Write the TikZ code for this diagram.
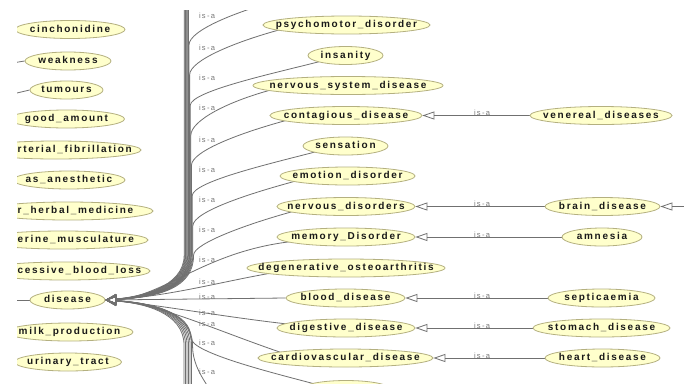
\documentclass[tikz,border=0pt]{standalone}
\usepackage{fontspec}
\newfontfamily\nodefont{Liberation Sans}[LetterSpace=17]
\usetikzlibrary{arrows.meta,shapes.geometric,calc}
\pgfdeclarelayer{bg}
\pgfsetlayers{bg,main}

\definecolor{bubfill}{RGB}{255,255,204}
\definecolor{bubline}{RGB}{180,176,128}
\definecolor{bubtext}{RGB}{25,25,25}
\definecolor{edgegray}{RGB}{112,112,112}
\definecolor{lblgray}{RGB}{120,120,120}

\newcommand\nf{\nodefont\bfseries\fontsize{10}{11}\selectfont}
\newcommand\lf{\nodefont\fontsize{7.5}{8}\selectfont}
% class bubble of a given width
\newcommand\bub[4]{%
  \node[bub, minimum width=#3pt] (#1) at (#2) {\makebox[0pt]{#4}};%
}
% subclass edge climbing the trunk and bending off to a class on the right
\newcommand\upedge[4]{%
  \draw[isadis] (dis.east) .. controls (#4,297) and (#2,288) .. (#2,255)
    -- (#2,#3+50) .. controls (#2,#3+35) and ($(#1.west)+(-25,16)$) .. ($(#1.west)+(20,4)$);%
}

\begin{document}
\begin{tikzpicture}[x=1pt,y=-1pt,
  bub/.style={ellipse, draw=bubline, fill=bubfill, line width=0.8pt, inner sep=0pt,
    minimum height=18pt, text height=7pt, text depth=2pt, font=\nf, text=bubtext},
  btxt/.style={font=\nf, text=bubtext, inner sep=0pt, text height=7pt, text depth=2pt},
  lbl/.style={font=\lf, text=lblgray, inner sep=0pt},
  edge/.style={draw=edgegray, line width=0.8pt},
  isa/.style={edge, -{Triangle[open, length=12pt, width=8pt]}},
  isadis/.style={edge, {Triangle[open, length=11pt, width=10pt]}-},
]
\useasboundingbox (0,0) rectangle (684,383);

\begin{scope}
\clip (17,10) rectangle (684,383);
% left column
\bub{cin}{70,29.5}{110}{cinchonidine}
\bub{wk}{68,61}{86}{weakness}
\bub{tum}{66.5,90}{73}{tumours}
\bub{good}{66.5,119}{116}{good\_amount}
\node[bub, minimum width=170pt] (af) at (56,150) {};
\node[btxt, anchor=west] (af-t) at (17.5,150) {rterial\_fibrillation};
\bub{anest}{69,180}{112}{as\_anesthetic}
\node[bub, minimum width=170pt] (herb) at (68,211) {};
\node[btxt, anchor=west] (herb-t) at (17.5,211) {r\_herbal\_medicine};
\node[bub, minimum width=170pt] (uter) at (63,240) {};
\node[btxt, anchor=west] (uter-t) at (17.5,240) {erine\_musculature};
\node[bub, minimum width=170pt] (exc) at (65,271) {};
\node[btxt, anchor=west] (exc-t) at (17.5,271) {cessive\_blood\_loss};
\bub{dis}{67.5,300}{75}{disease}
\bub{milk}{69.5,332}{127}{milk\_production}
\bub{uri}{68,362}{107}{urinary\_tract}

% middle column
\bub{psy}{346.5,25}{167}{psychomotor\_disorder}
\bub{ins}{345.5,55.5}{75}{insanity}
\bub{nsd}{348,85.5}{190}{nervous\_system\_disease}
\bub{cont}{346,115.5}{152}{contagious\_disease}
\bub{sens}{345.5,146}{85}{sensation}
\bub{emo}{347.5,176}{135}{emotion\_disorder}
\bub{nerv}{346,206.5}{138}{nervous\_disorders}
\bub{mem}{346,237}{138}{memory\_Disorder}
\bub{deg}{346,268}{198}{degenerative\_osteoarthritis}
\bub{blood}{345.5,298}{119}{blood\_disease}
\bub{dig}{346,328}{138}{digestive\_disease}
\bub{card}{345.5,358}{175}{cardiovascular\_disease}
\node[bub, minimum width=90pt] (low) at (346,389.5) {};

% right column
\bub{ven}{601,115.5}{142}{venereal\_diseases}
\bub{brain}{602.5,206.5}{115}{brain\_disease}
\bub{amn}{602,237}{80}{amnesia}
\bub{sep}{601.5,298}{107}{septicaemia}
\bub{stom}{601.5,328}{137}{stomach\_disease}
\bub{heart}{602.5,358}{115}{heart\_disease}

% relation labels near the trunk
\foreach \ly [count=\i] in {15.7,48.3,78.3,108.3,140,170,200,230,260,282,297,313,324,343,371.7}
  \node[lbl] (t\i) at (207,\ly) {is-a};
% relation labels on the right
\foreach \ly [count=\i] in {113,204,234.5,295.5,325.5,355.5}
  \node[lbl] (r\i) at (482,\ly) {is-a};
\end{scope}

\begin{pgfonlayer}{bg}
\fill[white] (0,0) rectangle (684,383);
\begin{scope}
\clip (17,10) rectangle (684,383);
% edges leaving to the left
\coordinate (wk-p) at (0,65);
\coordinate (tum-p) at (0,97);
\coordinate (dis-p) at (0,300);
\draw[edge] (wk.west) -- (wk-p);
\draw[edge] (tum.west) -- (tum-p);
\draw[edge] (dis.west) -- (dis-p);

% trunk: subclasses lying above the view
\foreach \bx/\cx [count=\i] in {184.2/138,184.9/140,185.6/142,186.3/144,187/146,187.7/148,188.4/150} {
  \coordinate (up\i) at (\bx,0);
  \draw[isadis] (dis.east) .. controls (\cx,297) and (\bx,288) .. (\bx,255) -- (up\i);
}
\coordinate (tp) at (283,-1);
\draw[isadis] (dis.east) .. controls (151,297) and (189,288) .. (189,255)
  -- (189,45) .. controls (189,30) and (238,11) .. (tp);
\upedge{psy}{189.6}{25}{152}
\upedge{ins}{190.2}{55.5}{153}
\upedge{nsd}{190.8}{85.5}{154}
\upedge{cont}{191.4}{115.5}{155}
\upedge{sens}{192.1}{146}{156}
\upedge{emo}{192.8}{176}{158}
\draw[isadis] (dis.east) .. controls (160,297) and (193.6,288) .. (193.6,255)
  .. controls (193.6,243) and ($(nerv.west)+(-25,16)$) .. ($(nerv.west)+(20,4)$);
\draw[isadis] (dis.east) .. controls (165,297) and (205,250) .. ($(mem.west)+(20,4)$);
\draw[isadis] (dis.east) .. controls (170,296) and (220,282) .. ($(deg.west)+(25,5)$);
\draw[isadis] (dis.east) -- (blood.west);
\draw[isadis] (dis.east) .. controls (160,305) and (230,318) .. ($(dig.west)+(20,-3)$);
\draw[isadis] (dis.east) .. controls (160,304) and (215,330) .. ($(card.west)+(25,-5)$);
\draw[isadis] (dis.east) .. controls (150,303) and (191,312) .. (191,338)
  .. controls (191,353) and ($(low.west)+(-25,-16)$) .. ($(low.west)+(20,-4)$);

% trunk: subclasses lying below the view
\foreach \bx/\cx [count=\i] in {184/142,185.5/145,187/148,188.5/150,190/152,191.5/154} {
  \coordinate (dn\i) at (\bx,400);
  \draw[isadis] (dis.east) .. controls (\cx,303) and (\bx,312) .. (\bx,345) -- (dn\i);
}
\coordinate (dnc) at (218,400);
\draw[isadis] (dis.east) .. controls (152,303) and (192.5,312) .. (192.5,345)
  .. controls (192.5,360) and (198,375) .. (dnc);

% right-hand subclass edges
\draw[isa] (ven.west) -- (cont.east);
\draw[isa] (brain.west) -- (nerv.east);
\draw[isa] (amn.west) -- (mem.east);
\draw[isa] (sep.west) -- (blood.east);
\draw[isa] (stom.west) -- (dig.east);
\draw[isa] (heart.west) -- (card.east);
\coordinate (bd-c) at (700,206.5);
\draw[isa] (bd-c) -- (brain.east);
\end{scope}
\end{pgfonlayer}
\end{tikzpicture}
\end{document}
